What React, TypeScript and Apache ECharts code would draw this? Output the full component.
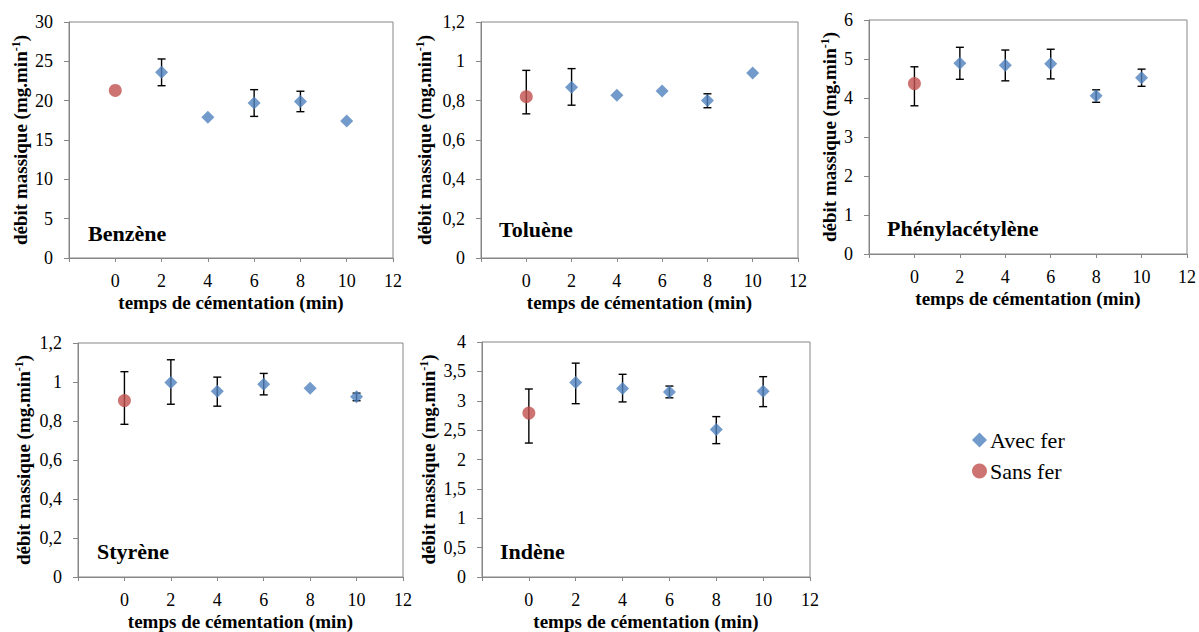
import React, { useEffect, useRef } from "react";
import * as echarts from "echarts";

const FONT = "Liberation Serif, Times New Roman, serif";
const BLUE = "#4F81BD";
const RED = "#C0504D";
const AXIS_GRAY = "#868686";

// ---------- data ----------
const compounds = ["Benzène", "Toluène", "Phénylacétylène", "Styrène", "Indène"];
const xAvec = [2, 4, 6, 8, 10];
const xSans = 0;

const benzeneAvec = [23.6, 17.9, 19.7, 19.9, 17.4];
const benzeneAvecLow = [21.9, null, 18.0, 18.6, null];
const benzeneAvecHigh = [25.3, null, 21.4, 21.2, null];
const benzeneSans = [21.3, null, null];

const tolueneAvec = [0.868, 0.827, 0.849, 0.801, 0.941];
const tolueneAvecLow = [0.777, null, null, 0.764, null];
const tolueneAvecHigh = [0.963, null, null, 0.835, null];
const tolueneSans = [0.82, 0.733, 0.954];

const phenylAvec = [4.89, 4.84, 4.88, 4.06, 4.52];
const phenylAvecLow = [4.48, 4.44, 4.49, 3.89, 4.3];
const phenylAvecHigh = [5.3, 5.23, 5.25, 4.21, 4.74];
const phenylSans = [4.37, 3.8, 4.8];

const styreneAvec = [0.998, 0.953, 0.988, 0.968, 0.924];
const styreneAvecLow = [0.886, 0.876, 0.934, null, 0.904];
const styreneAvecHigh = [1.114, 1.025, 1.044, null, 0.943];
const styreneSans = [0.905, 0.783, 1.053];

const indeneAvec = [3.31, 3.21, 3.15, 2.51, 3.16];
const indeneAvecLow = [2.95, 2.98, 3.05, 2.27, 2.9];
const indeneAvecHigh = [3.64, 3.45, 3.25, 2.73, 3.41];
const indeneSans = [2.79, 2.28, 3.2];

const yMax = [30, 1.2, 6, 1.2, 4];
const yStep = [5, 0.2, 1, 0.2, 0.5];
const xMin = -2;
const xMax = 12;
const xStep = 2;

const xTitle = "temps de cémentation (min)";
const yTitle = "débit massique (mg.min{sup|-1})";
const legendNames = ["Avec fer", "Sans fer"];

const avecSets = [benzeneAvec, tolueneAvec, phenylAvec, styreneAvec, indeneAvec];
const lowSets = [benzeneAvecLow, tolueneAvecLow, phenylAvecLow, styreneAvecLow, indeneAvecLow];
const highSets = [benzeneAvecHigh, tolueneAvecHigh, phenylAvecHigh, styreneAvecHigh, indeneAvecHigh];
const sansSets = [benzeneSans, tolueneSans, phenylSans, styreneSans, indeneSans];

// ---------- layout ----------
const grids = [
  { left: 69, top: 22, width: 324, height: 236 },
  { left: 481, top: 22, width: 317, height: 236 },
  { left: 869, top: 20, width: 320, height: 234 },
  { left: 78, top: 343, width: 325, height: 235 },
  { left: 482, top: 342, width: 328, height: 236 },
];
const yNameGaps = [38, 46, 24, 44, 43];
const labelPos = [
  [88, 233],
  [499, 229],
  [887, 228],
  [97, 551],
  [500, 551],
];

function fmt(v: number) {
  return String(Number(v.toFixed(2))).replace(".", ",");
}

function errorRender(params: any, api: any) {
  const x = api.value(0);
  const lo = api.value(1);
  const hi = api.value(2);
  const a = api.coord([x, hi]);
  const b = api.coord([x, lo]);
  const c = 4;
  const st = { stroke: "#000", lineWidth: 1.4 };
  return {
    type: "group",
    children: [
      { type: "line", shape: { x1: a[0], y1: a[1], x2: b[0], y2: b[1] }, style: st },
      { type: "line", shape: { x1: a[0] - c, y1: a[1], x2: a[0] + c, y2: a[1] }, style: st },
      { type: "line", shape: { x1: b[0] - c, y1: b[1], x2: b[0] + c, y2: b[1] }, style: st },
    ],
  };
}

export default function App() {
  const ref = useRef<HTMLDivElement>(null);
  useEffect(() => {
    if (!ref.current) return;
    const chart = echarts.init(ref.current, undefined, { renderer: "svg" });

    const xAxes: any[] = [];
    const yAxes: any[] = [];
    const series: any[] = [];
    const graphics: any[] = [];

    compounds.forEach((name, i) => {
      xAxes.push({
        type: "value",
        gridIndex: i,
        min: xMin,
        max: xMax,
        interval: xStep,
        name: xTitle,
        nameLocation: "middle",
        nameGap: 35,
        nameTextStyle: { fontFamily: FONT, fontWeight: "bold", fontSize: 19, color: "#000" },
        axisLine: { show: true, onZero: false, lineStyle: { color: AXIS_GRAY, width: 1 } },
        axisTick: { show: true, length: 4, lineStyle: { color: AXIS_GRAY } },
        axisLabel: {
          fontFamily: FONT,
          fontSize: 18,
          color: "#000",
          margin: 14,
          formatter: (v: number) => (v === xMin ? "" : String(v)),
        },
        splitLine: { show: false },
      });
      yAxes.push({
        type: "value",
        gridIndex: i,
        min: 0,
        max: yMax[i],
        interval: yStep[i],
        name: yTitle,
        nameLocation: "middle",
        nameRotate: 90,
        nameGap: yNameGaps[i],
        nameTextStyle: {
          fontFamily: FONT,
          fontWeight: "bold",
          fontSize: 19,
          color: "#000",
          lineHeight: 21,
          rich: {
            sup: { fontFamily: FONT, fontWeight: "bold", fontSize: 12, color: "#000", verticalAlign: "top", lineHeight: 12 },
          },
        },
        axisLine: { show: true, onZero: false, lineStyle: { color: AXIS_GRAY, width: 1 } },
        axisTick: { show: true, length: 5, lineStyle: { color: AXIS_GRAY } },
        axisLabel: { fontFamily: FONT, fontSize: 18, color: "#000", margin: 16, formatter: fmt },
        splitLine: { show: false },
      });

      const avec = avecSets[i];
      const lows = lowSets[i];
      const highs = highSets[i];
      const sans = sansSets[i];
      const errData: any[] = [];
      xAvec.forEach((x, j) => {
        if (lows[j] != null && highs[j] != null) errData.push([x, lows[j], highs[j]]);
      });
      if (sans[1] != null && sans[2] != null) errData.push([xSans, sans[1], sans[2]]);

      series.push({
        type: "custom",
        name: "err" + i,
        xAxisIndex: i,
        yAxisIndex: i,
        renderItem: errorRender,
        encode: { x: 0, y: [1, 2] },
        data: errData,
        z: 1,
        silent: true,
      });
      series.push({
        type: "scatter",
        name: legendNames[0],
        xAxisIndex: i,
        yAxisIndex: i,
        symbol: "diamond",
        symbolSize: 13,
        itemStyle: { color: BLUE },
        data: xAvec.map((x, j) => [x, avec[j]]),
        z: 3,
      });
      series.push({
        type: "scatter",
        name: legendNames[1],
        xAxisIndex: i,
        yAxisIndex: i,
        symbol: "circle",
        symbolSize: 13,
        itemStyle: { color: RED },
        data: [[xSans, sans[0]]],
        z: 3,
      });

      graphics.push({
        type: "text",
        x: labelPos[i][0],
        y: labelPos[i][1],
        style: {
          text: name,
          fontFamily: FONT,
          fontWeight: "bold",
          fontSize: 22,
          fill: "#000",
          verticalAlign: "middle",
          align: "left",
        },
        z: 10,
      });
    });

    chart.setOption({
      animation: false,
      backgroundColor: "#fff",
      textStyle: { fontFamily: FONT },
      grid: grids.map((g) => ({
        ...g,
        show: true,
        borderColor: AXIS_GRAY,
        borderWidth: 1,
        backgroundColor: "transparent",
        containLabel: false,
      })),
      xAxis: xAxes,
      yAxis: yAxes,
      legend: {
        data: [
          { name: legendNames[0], icon: "diamond" },
          { name: legendNames[1], icon: "circle" },
        ],
        orient: "vertical",
        left: 972,
        top: 429,
        padding: 0,
        itemGap: 9,
        itemWidth: 15,
        itemHeight: 15,
        textStyle: { fontFamily: FONT, fontSize: 22, color: "#000", padding: [0, 0, 0, -2] },
        selectedMode: false,
      },
      graphic: graphics,
      series,
    });

    return () => chart.dispose();
  }, []);

  return (
    <div
      ref={ref}
      style={{ position: "fixed", left: 0, top: 0, width: 1199, height: 632, background: "#fff" }}
    />
  );
}
